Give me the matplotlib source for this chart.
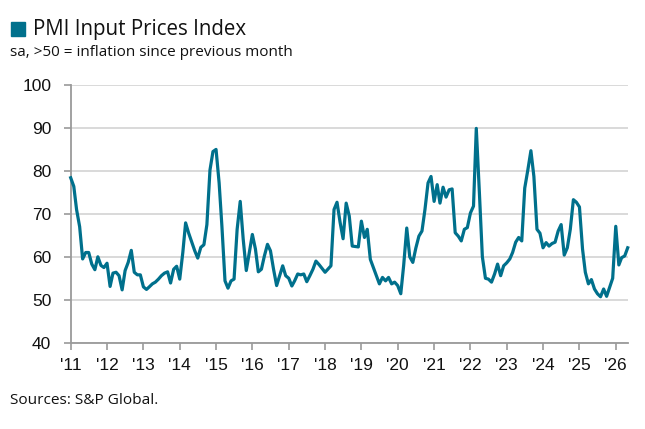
import matplotlib
matplotlib.use("Agg")
import matplotlib.pyplot as plt
from matplotlib.patches import Rectangle
import pandas as pd

plt.rcParams['font.family'] = ['Liberation Sans', 'DejaVu Sans']

# monthly index, Jan 2011 onwards
values = [
    78.4, 76.4, 71, 67, 59.5, 61, 61, 58.3, 57, 60, 58, 57.5,
    58.5, 53.1, 56.2, 56.4, 55.6, 52.3, 56.8, 58.7, 61.5, 56.4, 55.8, 55.8,
    53, 52.4, 53, 53.7, 54.1, 54.8, 55.6, 56.2, 56.5, 53.9, 57.1, 57.8,
    54.8, 61, 67.9, 65.5, 63.5, 61.4, 59.7, 62.2, 62.8, 67.5, 80.2, 84.5,
    85, 77.2, 67.1, 54.4, 52.7, 54.4, 54.8, 66.4, 72.9, 64.1, 56.8, 61,
    65.2, 61.8, 56.5, 57.1, 60.2, 62.9, 61.4, 57.1, 53.3, 55.6, 57.9, 55.6,
    55, 53.2, 54.4, 56, 55.8, 56, 54.2, 55.6, 57.1, 59, 58.2, 57.3,
    56.4, 57.2, 57.9, 71, 72.7, 68, 64.2, 72.5, 69.5, 62.5, 62.4, 62.3,
    68.3, 64.5, 66.4, 59.4, 57.5, 55.6, 53.7, 55.2, 54.4, 55.2, 53.7, 54.1,
    53.3, 51.4, 58, 66.7, 60, 58.7, 62, 64.8, 66, 71, 77.2, 78.7,
    72.9, 76.8, 72.5, 76.2, 73.9, 75.6, 75.8, 65.6, 64.8, 63.7, 66.4, 66.8,
    70.2, 71.8, 89.9, 75, 60, 55, 54.8, 54.1, 56, 58.3, 55.6, 57.9,
    58.6, 59.5, 61, 63.4, 64.5, 63.7, 76, 80.2, 84.7, 78.7, 66.4, 65.5,
    62.1, 63.3, 62.5, 63.1, 63.4, 66, 67.5, 60.4, 62.1, 66.4, 73.3, 72.7,
    71.6, 61.8, 56.4, 53.7, 54.7, 52.5, 51.4, 50.7, 52.5, 50.8, 52.9, 55,
    67.1, 58.1, 59.8, 60.2, 62.1,
]
dates = pd.date_range('2011-01-01', periods=len(values), freq='MS')

years = list(range(2011, 2027))
year_labels = ["'%02d" % (y % 100) for y in years]
y_ticks = [40, 50, 60, 70, 80, 90, 100]

teal = '#00708c'
grey = '#9a9a9a'
text_font = ['Open Sans', 'DejaVu Sans']

W, H = 645, 429
fig = plt.figure(figsize=(W / 100, H / 100), dpi=100)
ax = fig.add_axes([70.7 / W, 1 - 342.7 / H, (627.7 - 70.7) / W, (342.7 - 85) / H])

ax.plot(dates, values, color=teal, lw=2.3, solid_joinstyle='round', zorder=3, clip_on=False)

ax.set_ylim(40, 100)
ax.set_yticks(y_ticks)
ax.set_xlim(dates[0], dates[-1])
ax.set_xticks([pd.Timestamp(f'{y}-01-01') for y in years])
ax.set_xticklabels(year_labels)

ax.grid(axis='y', color='#d9d9d9', lw=1.4, zorder=0)
ax.set_axisbelow(True)
for s in ['top', 'right']:
    ax.spines[s].set_visible(False)
for s in ['left', 'bottom']:
    ax.spines[s].set_color(grey)
    ax.spines[s].set_linewidth(1.3)

ax.tick_params(axis='y', length=5, width=1.2, color=grey, pad=9, labelsize=12.5, labelcolor='#111111')
ax.tick_params(axis='x', length=5, width=1.2, color=grey, pad=6, labelsize=12.5, labelcolor='#111111')

# title block
fig.patches.append(Rectangle((10.7 / W, 1 - 36 / H), 14 / W, 14 / H,
                             transform=fig.transFigure, color=teal))
fig.text(33 / W, 1 - 29.5 / H, 'PMI Input Prices Index', fontsize=14.8, family=text_font,
         va='center', ha='left', color='#111111')
fig.text(10 / W, 1 - 53 / H, 'sa, >50 = inflation since previous month', fontsize=11.0,
         family=text_font, va='center', ha='left', color='#111111')
fig.text(10 / W, 1 - 400 / H, 'Sources: S&P Global.', fontsize=11.1, family=text_font,
         va='center', ha='left', color='#111111')

fig.savefig('out.png', dpi=100)
